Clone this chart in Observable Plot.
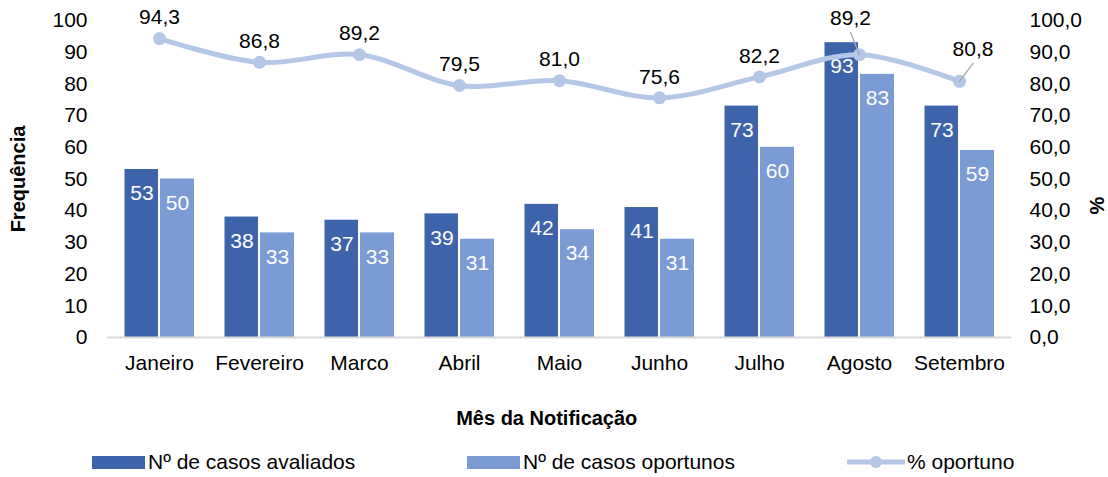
<!DOCTYPE html>
<html>
<head>
<meta charset="utf-8">
<script src="https://cdn.jsdelivr.net/npm/d3@7"></script>
<script src="https://cdn.jsdelivr.net/npm/@observablehq/plot@0.6"></script>
<style>
  html, body { margin: 0; padding: 0; background: #fff; }
  #wrap { position: relative; width: 1108px; height: 477px; font-family: "Liberation Sans", Arial, sans-serif; color: #000; }
  #chart svg { display: block; }
  .leg { position: absolute; top: 451px; height: 22px; display: flex; align-items: center; font-size: 21px; white-space: nowrap; }
  .sw { display: inline-block; width: 53px; height: 13px; margin-right: 3px; }
</style>
</head>
<body>
<div id="wrap">
  <div id="chart"></div>
  <div class="leg" style="left:92px"><span class="sw" style="background:#3d64ab"></span>Nº de casos avaliados</div>
  <div class="leg" style="left:467px"><span class="sw" style="background:#7b9bd4"></span>Nº de casos oportunos</div>
  <div class="leg" style="left:847px"><svg width="58" height="16" style="margin-right:2px"><line x1="0" y1="8" x2="58" y2="8" stroke="#b4c7e7" stroke-width="5"/><circle cx="29" cy="8" r="6" fill="#b4c7e7"/></svg>% oportuno</div>
</div>
<script>
const months = ["Janeiro","Fevereiro","Marco","Abril","Maio","Junho","Julho","Agosto","Setembro"];
const casosAvaliados = [53,38,37,39,42,41,73,93,73];
const casosOportunos = [50,33,33,31,34,31,60,83,59];
const pctOportuno = [94.3,86.8,89.2,79.5,81.0,75.6,82.2,89.2,80.8];
const yTicks = [0,10,20,30,40,50,60,70,80,90,100];

const dark = "#3d64ab", light = "#7b9bd4", lineColor = "#b4c7e7";
const data = months.map((m, i) => ({month: m, av: casosAvaliados[i], op: casosOportunos[i], pct: pctOportuno[i]}));
const fmt1 = d => d.toFixed(1).replace(".", ",");
const leader = {draw(ctx, l) { ctx.moveTo(0, 0); ctx.lineTo(0, -l); }};
const special = new Set(["Agosto", "Setembro"]);
const FS = 21;

const chart = Plot.plot({
  width: 1108, height: 440,
  marginLeft: 107, marginRight: 96.5, marginTop: 20, marginBottom: 103,
  style: {fontFamily: "'Liberation Sans', Arial, sans-serif", fontSize: FS + "px", color: "#000", background: "#fff"},
  x: {type: "band", domain: months, padding: 0},
  y: {domain: [0, 100]},
  marks: [
    Plot.barY(data, {x: "month", y: "av", fill: dark, insetLeft: 15.5, insetRight: 51}),
    Plot.barY(data, {x: "month", y: "op", fill: light, insetLeft: 51, insetRight: 15}),
    Plot.ruleY([0], {stroke: "#d9d9d9", strokeWidth: 2}),
    Plot.text(data, {x: "month", y: "av", text: d => String(d.av), dx: -17.5, dy: 24, fill: "white", fontSize: FS}),
    Plot.text(data, {x: "month", y: "op", text: d => String(d.op), dx: 18, dy: 24, fill: "white", fontSize: FS}),
    Plot.line(data, {x: "month", y: "pct", curve: "catmull-rom", stroke: lineColor, strokeWidth: 5}),
    Plot.dot(data, {x: "month", y: "pct", r: 6.5, fill: lineColor}),
    Plot.vector(data, {filter: d => d.month === "Agosto", x: "month", y: "pct", length: 24, rotate: -22, anchor: "start", shape: leader, stroke: "#a6a6a6", strokeWidth: 1.3}),
    Plot.vector(data, {filter: d => d.month === "Setembro", x: "month", y: "pct", length: 22.5, rotate: 37, anchor: "start", shape: leader, stroke: "#a6a6a6", strokeWidth: 1.3}),
    Plot.text(data, {filter: d => !special.has(d.month), x: "month", y: "pct", text: d => fmt1(d.pct), dy: -21, fill: "#000", fontSize: FS}),
    Plot.text(data, {filter: d => d.month === "Agosto", x: "month", y: "pct", text: d => fmt1(d.pct), dx: -9, dy: -36, fill: "#000", fontSize: FS}),
    Plot.text(data, {filter: d => d.month === "Setembro", x: "month", y: "pct", text: d => fmt1(d.pct), dx: 13.5, dy: -32, fill: "#000", fontSize: FS}),
    Plot.axisY({anchor: "left", ticks: yTicks, tickSize: 0, tickPadding: 20, label: null, fontSize: FS}),
    Plot.axisY({anchor: "right", ticks: yTicks, tickFormat: fmt1, tickSize: 0, tickPadding: 17.5, label: null, fontSize: FS}),
    Plot.axisX({anchor: "bottom", tickSize: 0, tickPadding: 18, label: null, fontSize: FS}),
    Plot.text(["Frequência"], {frameAnchor: "left", dx: -89, rotate: -90, textAnchor: "middle", lineAnchor: "middle", fontWeight: "bold", fontSize: 20}),
    Plot.text(["%"], {frameAnchor: "right", dx: 85.5, dy: 26.5, rotate: -90, textAnchor: "middle", lineAnchor: "middle", fontWeight: "bold", fontSize: 20}),
    Plot.text(["Mês da Notificação"], {frameAnchor: "bottom", dx: -13, dy: 81, textAnchor: "middle", lineAnchor: "middle", fontWeight: "bold", fontSize: 20})
  ]
});
document.getElementById("chart").appendChild(chart);
</script>
</body>
</html>
